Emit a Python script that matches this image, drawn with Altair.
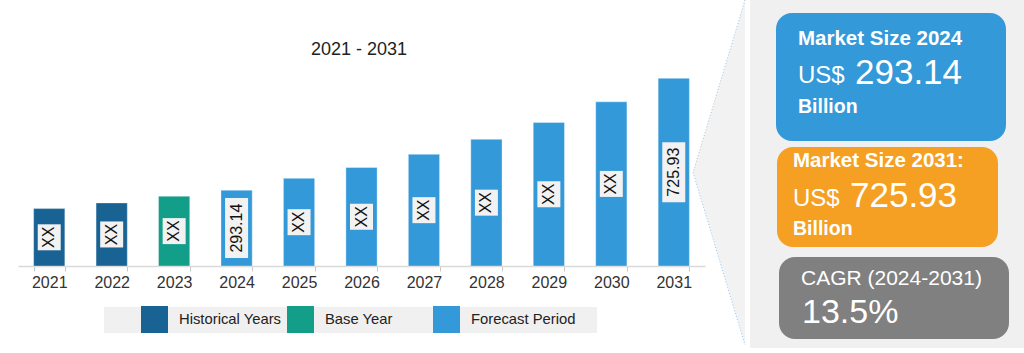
import altair as alt
import pandas as pd

# ---------------- data ----------------
years = ["2021", "2022", "2023", "2024", "2025", "2026", "2027", "2028", "2029", "2030", "2031"]
values = [222, 244, 270, 293.14, 339, 381, 432, 490, 555, 635, 725.93]
periods = ["Historical Years", "Historical Years", "Base Year"] + ["Forecast Period"] * 8
bar_labels = ["XX", "XX", "XX", "293.14", "XX", "XX", "XX", "XX", "XX", "XX", "725.93"]
period_order = ["Historical Years", "Base Year", "Forecast Period"]
period_colors = ["#186294", "#139e8a", "#3399d9"]
chart_title = "2021 - 2031"

box1_title = "Market Size 2024"
box1_value = "293.14"
box2_title = "Market Size 2031:"
box2_value = "725.93"
currency = "US$"
unit = "Billion"
cagr_title = "CAGR (2024-2031)"
cagr_value = "13.5%"

df = pd.DataFrame({"year": years, "value": values, "period": periods, "label": bar_labels})

FONT = "Liberation Sans"

x_enc = alt.X(
    "year:O",
    scale=alt.Scale(range=[18, 705], paddingInner=0.5, paddingOuter=0.25),
    axis=alt.Axis(
        title=None, labelAngle=0, labelFontSize=16, labelColor="#333333", labelFont=FONT,
        tickBand="extent", tickSize=5, tickColor="#c8c8c8", domainColor="#d9d9d9",
        domainWidth=1.5, labelPadding=3, grid=False,
    ),
)
y_scale = alt.Scale(domain=[0, 1029])

bars = alt.Chart(df).mark_bar(stroke="white", strokeOpacity=0.35, strokeWidth=1).encode(
    x=x_enc,
    y=alt.Y("value:Q", scale=y_scale, axis=None),
    color=alt.Color(
        "period:N",
        scale=alt.Scale(domain=period_order, range=period_colors),
        legend=alt.Legend(
            title=None, orient="none", legendX=141, legendY=306, direction="horizontal",
            symbolType="square", symbolSize=729, symbolStrokeWidth=0,
            labelFontSize=14.8, labelFont=FONT, labelColor="#222222", labelOffset=11,
            columnPadding=3, gridAlign="all", padding=0,
        ),
    ),
)

boxes = alt.Chart(df).transform_calculate(
    mid="datum.value / 2", boxlen="datum.label == 'XX' ? 26 : 60"
).mark_tick(orient="vertical", thickness=23, color="#f2f2f2", opacity=1).encode(
    x=x_enc,
    y=alt.Y("mid:Q", scale=y_scale, axis=None),
    size=alt.Size("boxlen:Q", scale=None, legend=None),
)

bar_text = alt.Chart(df).transform_calculate(mid="datum.value / 2").mark_text(
    angle=270, fontSize=16, font=FONT, color="#111111"
).encode(
    x=x_enc,
    y=alt.Y("mid:Q", scale=y_scale, axis=None),
    text="label:N",
)


def deco_rect(x, x2, y, y2, fill, radius=0):
    return alt.Chart(alt.Data(values=[{"k": 1}])).mark_rect(
        fill=fill, cornerRadius=radius
    ).encode(x=alt.value(x), x2=alt.value(x2), y=alt.value(y), y2=alt.value(y2))


def deco_text(content, x, y, size, weight="normal", color="white", align="left"):
    return alt.Chart(alt.Data(values=[{"t": content}])).mark_text(
        align=align, baseline="alphabetic", fontSize=size, fontWeight=weight,
        font=FONT, color=color,
    ).encode(x=alt.value(x), y=alt.value(y), text="t:N")


chevron = alt.Chart(alt.Data(values=[{"k": 1}])).mark_point(
    shape="M 0 -1 L -0.301 0 L 0 1", size=119025, filled=True, fill="#f2f2f2",
    stroke="#9dc3e6", strokeDash=[1, 2], strokeWidth=1, opacity=1,
).encode(x=alt.value(745), y=alt.value(172.5))

panel_bg = deco_rect(750, 1024, 0, 348, "#f0f0f0")
legend_bg = deco_rect(104, 597, 307, 333, "#f0f0f0")

blue_box = deco_rect(776, 1006, 13, 141, "#3399d9", 16)
orange_box = deco_rect(777, 998, 147, 247, "#f5a022", 16)
gray_box = deco_rect(779, 1009, 257, 339, "#808080", 16)

texts = [
    deco_text(box1_title, 798, 45, 20.5, "bold"),
    deco_text(currency, 798, 83, 24),
    deco_text(box1_value, 855, 84, 35),
    deco_text(unit, 798, 113, 19.5, "bold"),
    deco_text(box2_title, 793, 167, 20.5, "bold"),
    deco_text(currency, 793, 206, 24),
    deco_text(box2_value, 850, 207, 35),
    deco_text(unit, 793, 235, 19.5, "bold"),
    deco_text(cagr_title, 801, 285, 21),
    deco_text(cagr_value, 802, 323, 34),
    deco_text(chart_title, 359, 54.5, 18, color="#222222", align="center"),
]

chart = alt.layer(
    panel_bg, chevron, blue_box, orange_box, gray_box, legend_bg,
    bars, boxes, bar_text, *texts,
).properties(
    width=1024, height=266,
    padding={"left": 0, "top": 0, "right": 0, "bottom": 87},
    autosize=alt.AutoSizeParams(type="none"),
).configure_view(stroke=None)

chart.save("out.html", embed_options={"renderer": "svg", "actions": False})
